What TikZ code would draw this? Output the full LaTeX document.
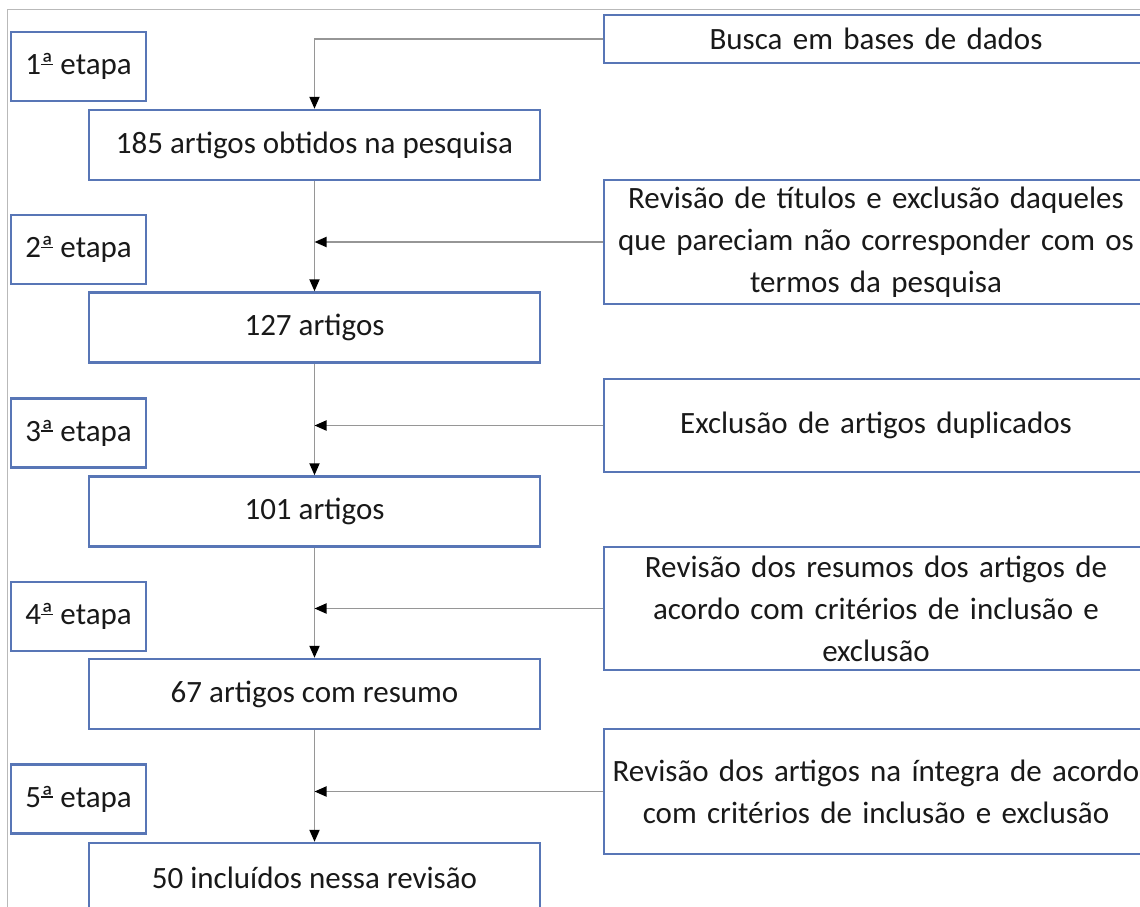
\documentclass[tikz,border=0pt]{standalone}
\usepackage{fontspec}
\setmainfont{Carlito}
\usetikzlibrary{arrows.meta}
\definecolor{boxblue}{RGB}{88,118,182}
\definecolor{conngray}{RGB}{150,150,150}
\definecolor{framegray}{RGB}{185,185,185}
\definecolor{txt}{RGB}{25,25,25}
\newcommand\ordfem{\sbox0{ª}\usebox0\hspace{-\wd0}\raisebox{0.30em}{\rule{\wd0}{0.055em}}}
\begin{document}
\begin{tikzpicture}[x=1pt,y=-1pt,
  every node/.style={font=\fontsize{31}{42}\selectfont, text=txt},
  boxbase/.style={draw=boxblue, line width=2.4pt, fill=white, inner sep=0pt, align=center},
  stagebox/.style={boxbase, minimum width=135pt, minimum height=69pt},
  mainbox/.style={boxbase, minimum width=451pt, minimum height=70pt},
  sidebox/.style={boxbase, minimum width=544pt, text width=530pt},
  conn/.style={draw=conngray, line width=1.9pt, -{Triangle[length=12pt,width=10pt,color=black]}}
]
\useasboundingbox (0,0) rectangle (1140,907);
\fill[white] (0,0) rectangle (1140,907);
\draw[framegray, line width=1.3pt] (7.5,930) -- (7.5,9.5) -- (1160,9.5);

% stage boxes
\node[stagebox] (s1) at (78.5,66.5) {1\ordfem{} etapa};
\node[stagebox] (s2) at (78.5,249.5) {2\ordfem{} etapa};
\node[stagebox] (s3) at (78.5,433) {3\ordfem{} etapa};
\node[stagebox] (s4) at (78.5,616.5) {4\ordfem{} etapa};
\node[stagebox] (s5) at (78.5,799) {5\ordfem{} etapa};

% main boxes
\node[mainbox] (m1) at (314.5,145) {185 artigos obtidos na pesquisa};
\node[mainbox] (m2) at (314.5,327.5) {127 artigos};
\node[mainbox] (m3) at (314.5,511.5) {101 artigos};
\node[mainbox] (m4) at (314.5,694) {67 artigos com resumo};
\node[mainbox] (m5) at (314.5,878) {50 incluídos nessa revisão};

% side boxes
\node[sidebox, minimum height=48pt] (r1) at (876,39) {Busca em bases de dados};
\node[sidebox, minimum height=124pt] (r2) at (876,242) {Revisão de títulos e exclusão daqueles\\que pareciam não corresponder com os\\termos da pesquisa};
\node[sidebox, minimum height=93pt] (r3) at (876,425.5) {Exclusão de artigos duplicados};
\node[sidebox, minimum height=123pt] (r4) at (876,608.5) {Revisão dos resumos dos artigos de\\acordo com critérios de inclusão e\\exclusão};
\node[sidebox, minimum height=125pt] (r5) at (876,791.5) {Revisão dos artigos na íntegra de acordo\\com critérios de inclusão e exclusão};

% connectors
\draw[conn] (r1.west) -| (m1.north);
\draw[conn] (m1.south) -- (m2.north);
\draw[conn] (m2.south) -- (m3.north);
\draw[conn] (m3.south) -- (m4.north);
\draw[conn] (m4.south) -- (m5.north);
\draw[conn] (r2.west) -- (r2.west -| m1.south);
\draw[conn] (r3.west) -- (r3.west -| m1.south);
\draw[conn] (r4.west) -- (r4.west -| m1.south);
\draw[conn] (r5.west) -- (r5.west -| m1.south);
\end{tikzpicture}
\end{document}
